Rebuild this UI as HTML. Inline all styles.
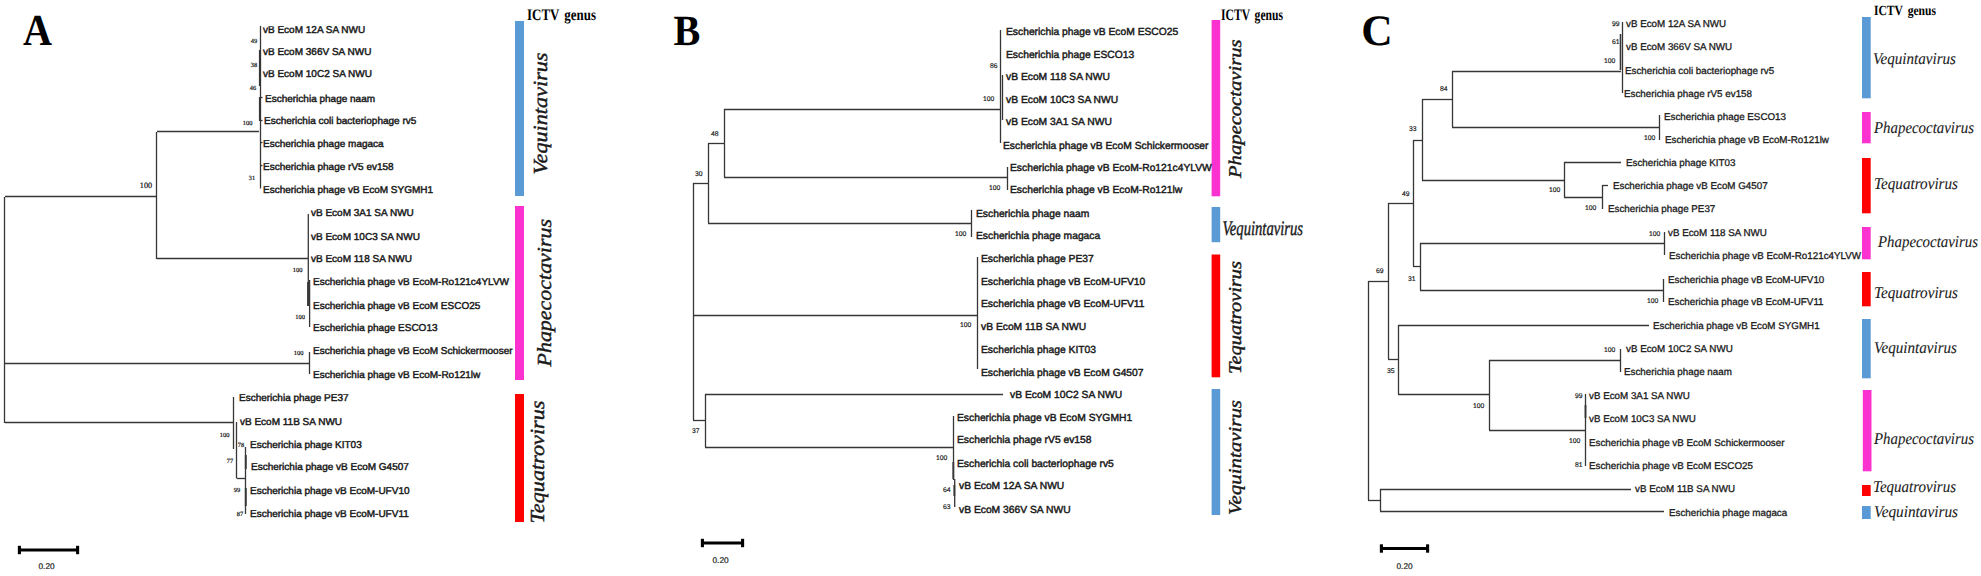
<!DOCTYPE html>
<html><head><meta charset="utf-8"><title>Phylogenetic trees</title>
<style>
html,body{margin:0;padding:0;background:#fff;}
body{width:1981px;height:576px;overflow:hidden;}
svg{display:block;text-rendering:geometricPrecision;}
.j{font-family:"Liberation Serif","Times New Roman",serif;font-style:italic;stroke:#1a1a1a;stroke-width:0.1px;}
.g{font-family:"Liberation Sans",Arial,sans-serif;}
.s{font-family:"Liberation Sans",Arial,sans-serif;stroke:#1a1a1a;stroke-width:0.45px;}
.r{font-family:"Liberation Serif","Times New Roman",serif;}
.i{font-family:"Liberation Serif","Times New Roman",serif;font-style:italic;stroke:#1a1a1a;stroke-width:0.42px;}
.b{font-family:"Liberation Serif","Times New Roman",serif;font-weight:bold;}
</style></head><body>
<svg width="1981" height="576" viewBox="0 0 1981 576">
<rect width="1981" height="576" fill="#fff"/>
<text class="b" x="23" y="45" font-size="44.5" fill="#000" textLength="29" lengthAdjust="spacingAndGlyphs">A</text>
<text class="b" font-size="16" fill="#000" x="527" y="20" textLength="69" lengthAdjust="spacingAndGlyphs">ICTV <tspan dx="2.5">genus</tspan></text>
<rect x="515" y="21" width="9" height="175" fill="#5b9bd5"/>
<rect x="515" y="206" width="9" height="174" fill="#fb32cf"/>
<rect x="515" y="394" width="9" height="128" fill="#ff0000"/>
<text class="i" font-size="20" fill="#1a1a1a" transform="translate(547,174.5) rotate(-90)" textLength="122.0" lengthAdjust="spacingAndGlyphs">Vequintavirus</text>
<text class="i" font-size="20" fill="#1a1a1a" transform="translate(550.5,366.5) rotate(-90)" textLength="147.5" lengthAdjust="spacingAndGlyphs">Phapecoctavirus</text>
<text class="i" font-size="20" fill="#1a1a1a" transform="translate(544,523.5) rotate(-90)" textLength="123.0" lengthAdjust="spacingAndGlyphs">Tequatrovirus</text>
<path d="M4.5 197L4.5 423" stroke="#363636" stroke-width="1.3" fill="none"/>
<path d="M5 196.5L157 196.5" stroke="#363636" stroke-width="1.3" fill="none"/>
<path d="M156.5 132L156.5 259" stroke="#363636" stroke-width="1.3" fill="none"/>
<path d="M157 131.5L259 131.5" stroke="#363636" stroke-width="1.3" fill="none"/>
<path d="M260.5 26L260.5 188.5" stroke="#363636" stroke-width="1.3" fill="none"/>
<path d="M259.8 50L259.8 86" stroke="#363636" stroke-width="1.8" fill="none"/>
<path d="M259.8 97L259.8 121" stroke="#363636" stroke-width="1.8" fill="none"/>
<path d="M157 258.5L308 258.5" stroke="#363636" stroke-width="1.3" fill="none"/>
<path d="M308.3 214L308.3 306" stroke="#363636" stroke-width="1.3" fill="none"/>
<path d="M307.8 282L307.8 306" stroke="#363636" stroke-width="1.4" fill="none"/>
<path d="M309.6 280L309.6 327" stroke="#363636" stroke-width="1.3" fill="none"/>
<path d="M5 363.5L310 363.5" stroke="#363636" stroke-width="1.3" fill="none"/>
<path d="M309.5 352L309.5 374" stroke="#363636" stroke-width="1.3" fill="none"/>
<path d="M5 422.5L234 422.5" stroke="#363636" stroke-width="1.3" fill="none"/>
<path d="M233.5 397L233.5 449" stroke="#363636" stroke-width="1.3" fill="none"/>
<path d="M236.5 422L236.5 478.5" stroke="#363636" stroke-width="1.3" fill="none"/>
<path d="M237 478.5L245.5 478.5" stroke="#363636" stroke-width="1.3" fill="none"/>
<path d="M245.5 447L245.5 514" stroke="#363636" stroke-width="1.3" fill="none"/>
<path d="M245.8 455L245.8 469" stroke="#363636" stroke-width="1.9" fill="none"/>
<path d="M245.8 488L245.8 506" stroke="#363636" stroke-width="1.9" fill="none"/>
<path d="M260 142.5L262.5 142.5" stroke="#363636" stroke-width="1.3" fill="none"/>
<path d="M260 165.5L262.5 165.5" stroke="#363636" stroke-width="1.3" fill="none"/>
<path d="M260 97.5L262.5 97.5" stroke="#363636" stroke-width="1.3" fill="none"/>
<path d="M260 120.5L262.5 120.5" stroke="#363636" stroke-width="1.3" fill="none"/>
<text class="s" x="263" y="32.6" font-size="10" fill="#1a1a1a" >vB EcoM 12A SA NWU</text>
<text class="s" x="263" y="55.1" font-size="10" fill="#1a1a1a" >vB EcoM 366V SA NWU</text>
<text class="s" x="263" y="77.3" font-size="10" fill="#1a1a1a" >vB EcoM 10C2 SA NWU</text>
<text class="s" x="265" y="101.6" font-size="10" fill="#1a1a1a" >Escherichia phage naam</text>
<text class="s" x="264" y="124.0" font-size="10" fill="#1a1a1a" >Escherichia coli bacteriophage rv5</text>
<text class="s" x="263" y="146.7" font-size="10" fill="#1a1a1a" >Escherichia phage magaca</text>
<text class="s" x="263" y="170.0" font-size="10" fill="#1a1a1a" >Escherichia phage rV5 ev158</text>
<text class="s" x="263" y="192.7" font-size="10" fill="#1a1a1a" >Escherichia phage vB EcoM SYGMH1</text>
<text class="s" x="311" y="216.0" font-size="10" fill="#1a1a1a" >vB EcoM 3A1 SA NWU</text>
<text class="s" x="311" y="239.7" font-size="10" fill="#1a1a1a" >vB EcoM 10C3 SA NWU</text>
<text class="s" x="311" y="262.1" font-size="10" fill="#1a1a1a" >vB EcoM 118 SA NWU</text>
<text class="s" x="313" y="285.4" font-size="10" fill="#1a1a1a" >Escherichia phage vB EcoM-Ro121c4YLVW</text>
<text class="s" x="313" y="308.7" font-size="10" fill="#1a1a1a" >Escherichia phage vB EcoM ESCO25</text>
<text class="s" x="313" y="331.4" font-size="10" fill="#1a1a1a" >Escherichia phage ESCO13</text>
<text class="s" x="313" y="354.4" font-size="10" fill="#1a1a1a" >Escherichia phage vB EcoM Schickermooser</text>
<text class="s" x="313" y="378.1" font-size="10" fill="#1a1a1a" >Escherichia phage vB EcoM-Ro121lw</text>
<text class="s" x="239" y="401.4" font-size="10" fill="#1a1a1a" >Escherichia phage PE37</text>
<text class="s" x="240" y="424.7" font-size="10" fill="#1a1a1a" >vB EcoM 11B SA NWU</text>
<text class="s" x="250" y="447.7" font-size="10" fill="#1a1a1a" >Escherichia phage KIT03</text>
<text class="s" x="251" y="470.1" font-size="10" fill="#1a1a1a" >Escherichia phage vB EcoM G4507</text>
<text class="s" x="250" y="494.4" font-size="10" fill="#1a1a1a" >Escherichia phage vB EcoM-UFV10</text>
<text class="s" x="250" y="517.1" font-size="10" fill="#1a1a1a" >Escherichia phage vB EcoM-UFV11</text>
<text class="r" x="250.8" y="43.1" font-size="6.4" fill="#111" stroke="#111" stroke-width="0.2">49</text>
<text class="r" x="250.8" y="67.1" font-size="6.4" fill="#111" stroke="#111" stroke-width="0.2">38</text>
<text class="r" x="249.8" y="90.1" font-size="6.4" fill="#111" stroke="#111" stroke-width="0.2">46</text>
<text class="r" x="242.8" y="125.1" font-size="6.4" fill="#111" stroke="#111" stroke-width="0.2">100</text>
<text class="r" x="248.8" y="180.1" font-size="6.4" fill="#111" stroke="#111" stroke-width="0.2">31</text>
<text class="r" x="292.8" y="272.1" font-size="6.4" fill="#111" stroke="#111" stroke-width="0.2">100</text>
<text class="r" x="295.3" y="319.1" font-size="6.4" fill="#111" stroke="#111" stroke-width="0.2">100</text>
<text class="r" x="293.8" y="355.1" font-size="6.4" fill="#111" stroke="#111" stroke-width="0.2">100</text>
<text class="r" x="219.8" y="437.1" font-size="6.4" fill="#111" stroke="#111" stroke-width="0.2">100</text>
<text class="r" x="237.8" y="447.1" font-size="6.4" fill="#111" stroke="#111" stroke-width="0.2">78</text>
<text class="r" x="226.8" y="463.1" font-size="6.4" fill="#111" stroke="#111" stroke-width="0.2">77</text>
<text class="r" x="233.8" y="492.1" font-size="6.4" fill="#111" stroke="#111" stroke-width="0.2">99</text>
<text class="r" x="236.8" y="516.1" font-size="6.4" fill="#111" stroke="#111" stroke-width="0.2">87</text>
<text class="r" x="139.8" y="187.7" font-size="8.2" fill="#111" stroke="#111" stroke-width="0.2">100</text>
<path d="M18 550L79 550" stroke="#000" stroke-width="3.2" fill="none"/>
<path d="M19.4 545.8L19.4 554.2" stroke="#000" stroke-width="3.1" fill="none"/>
<path d="M77.6 545.8L77.6 554.2" stroke="#000" stroke-width="3.1" fill="none"/>
<text class="g" x="38.5" y="569.3" font-size="8.3" fill="#222" stroke="#222" stroke-width="0.2">0.20</text>
<text class="b" x="673.5" y="45" font-size="43" fill="#000" textLength="26.8" lengthAdjust="spacingAndGlyphs">B</text>
<text class="b" font-size="16" fill="#000" x="1221" y="20" textLength="62" lengthAdjust="spacingAndGlyphs">ICTV <tspan dx="2.5">genus</tspan></text>
<rect x="1211.6" y="20" width="8.6" height="176.3" fill="#fb32cf"/>
<rect x="1211.6" y="207" width="8.6" height="35.2" fill="#5b9bd5"/>
<rect x="1211.6" y="254.5" width="8.6" height="122.8" fill="#ff0000"/>
<rect x="1211.6" y="389" width="8.6" height="126" fill="#5b9bd5"/>
<text class="i" font-size="18" fill="#1a1a1a" transform="translate(1240.5,178) rotate(-90)" textLength="138.5" lengthAdjust="spacingAndGlyphs">Phapecoctavirus</text>
<text class="i" font-size="20.5" fill="#1a1a1a" x="1222.5" y="234.5" textLength="80.5" lengthAdjust="spacingAndGlyphs">Vequintavirus</text>
<text class="i" font-size="18" fill="#1a1a1a" transform="translate(1240.5,374) rotate(-90)" textLength="113" lengthAdjust="spacingAndGlyphs">Tequatrovirus</text>
<text class="i" font-size="18" fill="#1a1a1a" transform="translate(1240.5,515) rotate(-90)" textLength="115" lengthAdjust="spacingAndGlyphs">Vequintavirus</text>
<path d="M693.5 183L693.5 420" stroke="#363636" stroke-width="1.3" fill="none"/>
<path d="M693 183.5L708 183.5" stroke="#363636" stroke-width="1.3" fill="none"/>
<path d="M708.5 143L708.5 223" stroke="#363636" stroke-width="1.3" fill="none"/>
<path d="M708 143.5L724 143.5" stroke="#363636" stroke-width="1.3" fill="none"/>
<path d="M724.5 109L724.5 177" stroke="#363636" stroke-width="1.3" fill="none"/>
<path d="M724 109.5L1000 109.5" stroke="#363636" stroke-width="1.3" fill="none"/>
<path d="M724 177.5L1007 177.5" stroke="#363636" stroke-width="1.3" fill="none"/>
<path d="M1000.5 30L1000.5 143" stroke="#363636" stroke-width="1.3" fill="none"/>
<path d="M1002.5 75L1002.5 120" stroke="#363636" stroke-width="1.3" fill="none"/>
<path d="M1007.5 167L1007.5 190" stroke="#363636" stroke-width="1.3" fill="none"/>
<path d="M708 223.5L971 223.5" stroke="#363636" stroke-width="1.3" fill="none"/>
<path d="M971.5 210L971.5 237" stroke="#363636" stroke-width="1.3" fill="none"/>
<path d="M693 315.5L977 315.5" stroke="#363636" stroke-width="1.3" fill="none"/>
<path d="M977.5 257L977.5 369" stroke="#363636" stroke-width="1.3" fill="none"/>
<path d="M693 420.5L705 420.5" stroke="#363636" stroke-width="1.3" fill="none"/>
<path d="M705.5 394L705.5 447" stroke="#363636" stroke-width="1.3" fill="none"/>
<path d="M705 394.5L1003 394.5" stroke="#363636" stroke-width="1.3" fill="none"/>
<path d="M705 447.5L953 447.5" stroke="#363636" stroke-width="1.3" fill="none"/>
<path d="M953.5 416L953.5 480" stroke="#363636" stroke-width="1.3" fill="none"/>
<path d="M954.7 479L954.7 507" stroke="#363636" stroke-width="1.3" fill="none"/>
<path d="M953.3 462L953.3 479" stroke="#363636" stroke-width="1.8" fill="none"/>
<path d="M954.3 485L954.3 496" stroke="#363636" stroke-width="1.8" fill="none"/>
<text class="s" x="1006" y="35.2" font-size="10.3" fill="#1a1a1a" >Escherichia phage vB EcoM ESCO25</text>
<text class="s" x="1006" y="57.5" font-size="10.3" fill="#1a1a1a" >Escherichia phage ESCO13</text>
<text class="s" x="1006" y="79.8" font-size="10.3" fill="#1a1a1a" >vB EcoM 118 SA NWU</text>
<text class="s" x="1006" y="102.8" font-size="10.3" fill="#1a1a1a" >vB EcoM 10C3 SA NWU</text>
<text class="s" x="1006" y="125.2" font-size="10.3" fill="#1a1a1a" >vB EcoM 3A1 SA NWU</text>
<text class="s" x="1003" y="148.5" font-size="10.3" fill="#1a1a1a" >Escherichia phage vB EcoM Schickermooser</text>
<text class="s" x="1010" y="170.8" font-size="10.3" fill="#1a1a1a" >Escherichia phage vB EcoM-Ro121c4YLVW</text>
<text class="s" x="1010" y="192.8" font-size="10.3" fill="#1a1a1a" >Escherichia phage vB EcoM-Ro121lw</text>
<text class="s" x="976" y="216.5" font-size="10.3" fill="#1a1a1a" >Escherichia phage naam</text>
<text class="s" x="976" y="238.8" font-size="10.3" fill="#1a1a1a" >Escherichia phage magaca</text>
<text class="s" x="981" y="262.2" font-size="10.3" fill="#1a1a1a" >Escherichia phage PE37</text>
<text class="s" x="981" y="284.5" font-size="10.3" fill="#1a1a1a" >Escherichia phage vB EcoM-UFV10</text>
<text class="s" x="981" y="307.2" font-size="10.3" fill="#1a1a1a" >Escherichia phage vB EcoM-UFV11</text>
<text class="s" x="981" y="329.5" font-size="10.3" fill="#1a1a1a" >vB EcoM 11B SA NWU</text>
<text class="s" x="981" y="352.5" font-size="10.3" fill="#1a1a1a" >Escherichia phage KIT03</text>
<text class="s" x="981" y="375.5" font-size="10.3" fill="#1a1a1a" >Escherichia phage vB EcoM G4507</text>
<text class="s" x="1010" y="397.5" font-size="10.3" fill="#1a1a1a" >vB EcoM 10C2 SA NWU</text>
<text class="s" x="957" y="420.8" font-size="10.3" fill="#1a1a1a" >Escherichia phage vB EcoM SYGMH1</text>
<text class="s" x="957" y="443.2" font-size="10.3" fill="#1a1a1a" >Escherichia phage rV5 ev158</text>
<text class="s" x="957" y="466.8" font-size="10.3" fill="#1a1a1a" >Escherichia coli bacteriophage rv5</text>
<text class="s" x="959" y="489.2" font-size="10.3" fill="#1a1a1a" >vB EcoM 12A SA NWU</text>
<text class="s" x="959" y="512.5" font-size="10.3" fill="#1a1a1a" >vB EcoM 366V SA NWU</text>
<text class="g" x="990" y="68.1" font-size="6.8" fill="#111" stroke="#111" stroke-width="0.15">86</text>
<text class="g" x="983" y="101.4" font-size="6.8" fill="#111" stroke="#111" stroke-width="0.15">100</text>
<text class="g" x="711" y="136.4" font-size="6.8" fill="#111" stroke="#111" stroke-width="0.15">48</text>
<text class="g" x="695" y="176.4" font-size="6.8" fill="#111" stroke="#111" stroke-width="0.15">30</text>
<text class="g" x="989" y="190.4" font-size="6.8" fill="#111" stroke="#111" stroke-width="0.15">100</text>
<text class="g" x="955" y="236.4" font-size="6.8" fill="#111" stroke="#111" stroke-width="0.15">100</text>
<text class="g" x="960" y="327.4" font-size="6.8" fill="#111" stroke="#111" stroke-width="0.15">100</text>
<text class="g" x="692" y="433.4" font-size="6.8" fill="#111" stroke="#111" stroke-width="0.15">37</text>
<text class="g" x="936" y="460.4" font-size="6.8" fill="#111" stroke="#111" stroke-width="0.15">100</text>
<text class="g" x="943" y="492.4" font-size="6.8" fill="#111" stroke="#111" stroke-width="0.15">64</text>
<text class="g" x="943" y="509.4" font-size="6.8" fill="#111" stroke="#111" stroke-width="0.15">63</text>
<path d="M701 543L744 543" stroke="#000" stroke-width="3.2" fill="none"/>
<path d="M702.4 538.8L702.4 547.2" stroke="#000" stroke-width="3.1" fill="none"/>
<path d="M742.6 538.8L742.6 547.2" stroke="#000" stroke-width="3.1" fill="none"/>
<text class="g" x="712.5" y="563.3" font-size="8.3" fill="#222" stroke="#222" stroke-width="0.2">0.20</text>
<text class="b" x="1361.3" y="45.2" font-size="43.5" fill="#000" >C</text>
<text class="b" font-size="14" fill="#000" x="1874" y="15.3" textLength="62" lengthAdjust="spacingAndGlyphs">ICTV <tspan dx="2.5">genus</tspan></text>
<rect x="1862" y="17" width="8.7" height="81.3" fill="#5b9bd5"/>
<rect x="1862" y="112" width="8.7" height="31.3" fill="#fb32cf"/>
<rect x="1862" y="158" width="8.7" height="55.3" fill="#ff0000"/>
<rect x="1862" y="227" width="8.7" height="32.3" fill="#fb32cf"/>
<rect x="1862" y="272" width="8.7" height="34.3" fill="#ff0000"/>
<rect x="1862" y="319" width="8.7" height="59.3" fill="#5b9bd5"/>
<rect x="1862.8" y="390" width="8.7" height="81.3" fill="#fb32cf"/>
<rect x="1862" y="485" width="8.7" height="11" fill="#ff0000"/>
<rect x="1862" y="506" width="8.7" height="13" fill="#5b9bd5"/>
<text class="j" font-size="16.5" fill="#1a1a1a" x="1873" y="64" textLength="83" lengthAdjust="spacingAndGlyphs">Vequintavirus</text>
<text class="j" font-size="16.5" fill="#1a1a1a" x="1874" y="133" textLength="100" lengthAdjust="spacingAndGlyphs">Phapecoctavirus</text>
<text class="j" font-size="16.5" fill="#1a1a1a" x="1874" y="189" textLength="84" lengthAdjust="spacingAndGlyphs">Tequatrovirus</text>
<text class="j" font-size="16.5" fill="#1a1a1a" x="1878" y="247" textLength="100" lengthAdjust="spacingAndGlyphs">Phapecoctavirus</text>
<text class="j" font-size="16.5" fill="#1a1a1a" x="1874" y="298" textLength="84" lengthAdjust="spacingAndGlyphs">Tequatrovirus</text>
<text class="j" font-size="16.5" fill="#1a1a1a" x="1874" y="353" textLength="83" lengthAdjust="spacingAndGlyphs">Vequintavirus</text>
<text class="j" font-size="16.5" fill="#1a1a1a" x="1874" y="444" textLength="100" lengthAdjust="spacingAndGlyphs">Phapecoctavirus</text>
<text class="j" font-size="16.5" fill="#1a1a1a" x="1873" y="492" textLength="83" lengthAdjust="spacingAndGlyphs">Tequatrovirus</text>
<text class="j" font-size="16.5" fill="#1a1a1a" x="1874" y="517" textLength="84" lengthAdjust="spacingAndGlyphs">Vequintavirus</text>
<path d="M1368.5 281L1368.5 500" stroke="#363636" stroke-width="1.3" fill="none"/>
<path d="M1368 281.5L1388 281.5" stroke="#363636" stroke-width="1.3" fill="none"/>
<path d="M1388.5 203L1388.5 359" stroke="#363636" stroke-width="1.3" fill="none"/>
<path d="M1388 203.5L1413 203.5" stroke="#363636" stroke-width="1.3" fill="none"/>
<path d="M1413.5 140L1413.5 266" stroke="#363636" stroke-width="1.3" fill="none"/>
<path d="M1413 140.5L1422 140.5" stroke="#363636" stroke-width="1.3" fill="none"/>
<path d="M1422.5 99L1422.5 180" stroke="#363636" stroke-width="1.3" fill="none"/>
<path d="M1422 99.5L1452 99.5" stroke="#363636" stroke-width="1.3" fill="none"/>
<path d="M1452.5 71L1452.5 127" stroke="#363636" stroke-width="1.3" fill="none"/>
<path d="M1452 71.5L1621 71.5" stroke="#363636" stroke-width="1.3" fill="none"/>
<path d="M1622.5 22L1622.5 93" stroke="#363636" stroke-width="1.3" fill="none"/>
<path d="M1620.5 34L1620.5 70" stroke="#363636" stroke-width="1.6" fill="none"/>
<path d="M1452 127.5L1659 127.5" stroke="#363636" stroke-width="1.3" fill="none"/>
<path d="M1659.5 115L1659.5 140" stroke="#363636" stroke-width="1.3" fill="none"/>
<path d="M1422 180.5L1564 180.5" stroke="#363636" stroke-width="1.3" fill="none"/>
<path d="M1564.5 162L1564.5 197" stroke="#363636" stroke-width="1.3" fill="none"/>
<path d="M1564 162.5L1621 162.5" stroke="#363636" stroke-width="1.3" fill="none"/>
<path d="M1564 197.5L1602 197.5" stroke="#363636" stroke-width="1.3" fill="none"/>
<path d="M1602.5 185L1602.5 209" stroke="#363636" stroke-width="1.3" fill="none"/>
<path d="M1602 185.5L1608 185.5" stroke="#363636" stroke-width="1.3" fill="none"/>
<path d="M1413 266.5L1420 266.5" stroke="#363636" stroke-width="1.3" fill="none"/>
<path d="M1420.5 243L1420.5 290" stroke="#363636" stroke-width="1.3" fill="none"/>
<path d="M1420 243.5L1664 243.5" stroke="#363636" stroke-width="1.3" fill="none"/>
<path d="M1664.5 232L1664.5 255" stroke="#363636" stroke-width="1.3" fill="none"/>
<path d="M1420 290.5L1663 290.5" stroke="#363636" stroke-width="1.3" fill="none"/>
<path d="M1663.5 279L1663.5 302" stroke="#363636" stroke-width="1.3" fill="none"/>
<path d="M1388 359.5L1398 359.5" stroke="#363636" stroke-width="1.3" fill="none"/>
<path d="M1398.5 325L1398.5 394" stroke="#363636" stroke-width="1.3" fill="none"/>
<path d="M1398 325.5L1649 325.5" stroke="#363636" stroke-width="1.3" fill="none"/>
<path d="M1398 394.5L1489 394.5" stroke="#363636" stroke-width="1.3" fill="none"/>
<path d="M1489.5 360L1489.5 430" stroke="#363636" stroke-width="1.3" fill="none"/>
<path d="M1489 360.5L1620 360.5" stroke="#363636" stroke-width="1.3" fill="none"/>
<path d="M1620.5 349L1620.5 372" stroke="#363636" stroke-width="1.3" fill="none"/>
<path d="M1489 430.5L1585 430.5" stroke="#363636" stroke-width="1.3" fill="none"/>
<path d="M1585.5 394L1585.5 466" stroke="#363636" stroke-width="1.3" fill="none"/>
<path d="M1585.5 405L1585.5 418" stroke="#363636" stroke-width="1.8" fill="none"/>
<path d="M1368 500.5L1380 500.5" stroke="#363636" stroke-width="1.3" fill="none"/>
<path d="M1380.5 489L1380.5 511" stroke="#363636" stroke-width="1.3" fill="none"/>
<path d="M1380 489.5L1631 489.5" stroke="#363636" stroke-width="1.3" fill="none"/>
<path d="M1380 511.5L1664 511.5" stroke="#363636" stroke-width="1.3" fill="none"/>
<text class="s" x="1626" y="27.3" font-size="9.8" fill="#1a1a1a" style="stroke-width:0.3px">vB EcoM 12A SA NWU</text>
<text class="s" x="1626" y="49.6" font-size="9.8" fill="#1a1a1a" style="stroke-width:0.3px">vB EcoM 366V SA NWU</text>
<text class="s" x="1625" y="74.0" font-size="9.8" fill="#1a1a1a" style="stroke-width:0.3px">Escherichia coli bacteriophage rv5</text>
<text class="s" x="1624" y="96.6" font-size="9.8" fill="#1a1a1a" style="stroke-width:0.3px">Escherichia phage rV5 ev158</text>
<text class="s" x="1664" y="120.0" font-size="9.8" fill="#1a1a1a" style="stroke-width:0.3px">Escherichia phage ESCO13</text>
<text class="s" x="1665" y="142.6" font-size="9.8" fill="#1a1a1a" style="stroke-width:0.3px">Escherichia phage vB EcoM-Ro121lw</text>
<text class="s" x="1626" y="165.6" font-size="9.8" fill="#1a1a1a" style="stroke-width:0.3px">Escherichia phage KIT03</text>
<text class="s" x="1613" y="188.6" font-size="9.8" fill="#1a1a1a" style="stroke-width:0.3px">Escherichia phage vB EcoM G4507</text>
<text class="s" x="1608" y="212.0" font-size="9.8" fill="#1a1a1a" style="stroke-width:0.3px">Escherichia phage PE37</text>
<text class="s" x="1668" y="236.3" font-size="9.8" fill="#1a1a1a" style="stroke-width:0.3px">vB EcoM 118 SA NWU</text>
<text class="s" x="1669" y="258.6" font-size="9.8" fill="#1a1a1a" style="stroke-width:0.3px">Escherichia phage vB EcoM-Ro121c4YLVW</text>
<text class="s" x="1668" y="282.6" font-size="9.8" fill="#1a1a1a" style="stroke-width:0.3px">Escherichia phage vB EcoM-UFV10</text>
<text class="s" x="1668" y="305.3" font-size="9.8" fill="#1a1a1a" style="stroke-width:0.3px">Escherichia phage vB EcoM-UFV11</text>
<text class="s" x="1653" y="328.6" font-size="9.8" fill="#1a1a1a" style="stroke-width:0.3px">Escherichia phage vB EcoM SYGMH1</text>
<text class="s" x="1626" y="352.0" font-size="9.8" fill="#1a1a1a" style="stroke-width:0.3px">vB EcoM 10C2 SA NWU</text>
<text class="s" x="1624" y="375.3" font-size="9.8" fill="#1a1a1a" style="stroke-width:0.3px">Escherichia phage naam</text>
<text class="s" x="1589" y="399.0" font-size="9.8" fill="#1a1a1a" style="stroke-width:0.3px">vB EcoM 3A1 SA NWU</text>
<text class="s" x="1589" y="422.3" font-size="9.8" fill="#1a1a1a" style="stroke-width:0.3px">vB EcoM 10C3 SA NWU</text>
<text class="s" x="1589" y="445.6" font-size="9.8" fill="#1a1a1a" style="stroke-width:0.3px">Escherichia phage vB EcoM Schickermooser</text>
<text class="s" x="1589" y="469.0" font-size="9.8" fill="#1a1a1a" style="stroke-width:0.3px">Escherichia phage vB EcoM ESCO25</text>
<text class="s" x="1635" y="492.3" font-size="9.8" fill="#1a1a1a" style="stroke-width:0.3px">vB EcoM 11B SA NWU</text>
<text class="s" x="1669" y="515.6" font-size="9.8" fill="#1a1a1a" style="stroke-width:0.3px">Escherichia phage magaca</text>
<text class="g" x="1612" y="26.4" font-size="6.8" fill="#111" stroke="#111" stroke-width="0.15">99</text>
<text class="g" x="1612" y="44.4" font-size="6.8" fill="#111" stroke="#111" stroke-width="0.15">61</text>
<text class="g" x="1604" y="63.4" font-size="6.8" fill="#111" stroke="#111" stroke-width="0.15">100</text>
<text class="g" x="1440" y="91.4" font-size="6.8" fill="#111" stroke="#111" stroke-width="0.15">84</text>
<text class="g" x="1409" y="131.4" font-size="6.8" fill="#111" stroke="#111" stroke-width="0.15">33</text>
<text class="g" x="1644" y="140.4" font-size="6.8" fill="#111" stroke="#111" stroke-width="0.15">100</text>
<text class="g" x="1549" y="192.4" font-size="6.8" fill="#111" stroke="#111" stroke-width="0.15">100</text>
<text class="g" x="1402" y="196.4" font-size="6.8" fill="#111" stroke="#111" stroke-width="0.15">49</text>
<text class="g" x="1585" y="210.4" font-size="6.8" fill="#111" stroke="#111" stroke-width="0.15">100</text>
<text class="g" x="1649" y="236.4" font-size="6.8" fill="#111" stroke="#111" stroke-width="0.15">100</text>
<text class="g" x="1376" y="273.4" font-size="6.8" fill="#111" stroke="#111" stroke-width="0.15">69</text>
<text class="g" x="1408" y="281.4" font-size="6.8" fill="#111" stroke="#111" stroke-width="0.15">31</text>
<text class="g" x="1647" y="303.4" font-size="6.8" fill="#111" stroke="#111" stroke-width="0.15">100</text>
<text class="g" x="1604" y="352.4" font-size="6.8" fill="#111" stroke="#111" stroke-width="0.15">100</text>
<text class="g" x="1387" y="373.4" font-size="6.8" fill="#111" stroke="#111" stroke-width="0.15">35</text>
<text class="g" x="1473" y="408.4" font-size="6.8" fill="#111" stroke="#111" stroke-width="0.15">100</text>
<text class="g" x="1575" y="398.4" font-size="6.8" fill="#111" stroke="#111" stroke-width="0.15">99</text>
<text class="g" x="1569" y="443.4" font-size="6.8" fill="#111" stroke="#111" stroke-width="0.15">100</text>
<text class="g" x="1575" y="467.4" font-size="6.8" fill="#111" stroke="#111" stroke-width="0.15">81</text>
<path d="M1380 548.5L1429 548.5" stroke="#000" stroke-width="3.2" fill="none"/>
<path d="M1381.4 544.3L1381.4 552.7" stroke="#000" stroke-width="3.1" fill="none"/>
<path d="M1427.6 544.3L1427.6 552.7" stroke="#000" stroke-width="3.1" fill="none"/>
<text class="g" x="1396.5" y="569.3" font-size="8.3" fill="#222" stroke="#222" stroke-width="0.2">0.20</text>
</svg>
</body></html>
